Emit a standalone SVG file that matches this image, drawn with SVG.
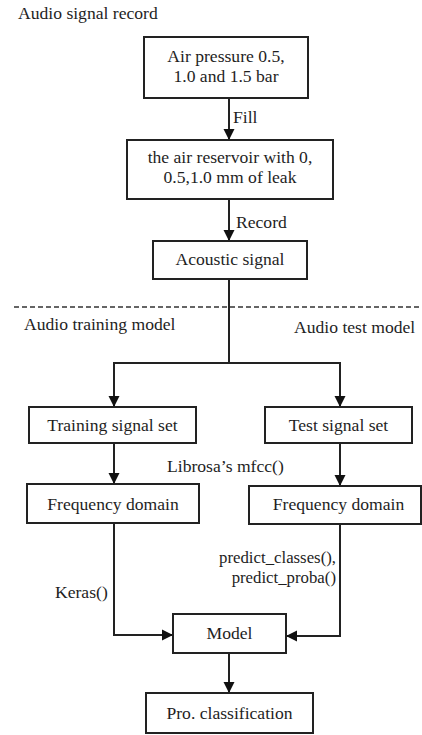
<svg xmlns="http://www.w3.org/2000/svg" width="422" height="735" viewBox="0 0 422 735">
<defs>
<style>
text{font-size:17.6px;fill:#1e1e1e}
.c{text-anchor:middle}
.r{text-anchor:end}
.sm{font-size:16.8px}
.box{fill:#fff;stroke:#222;stroke-width:2}
.ln{fill:none;stroke:#222;stroke-width:2}
.arr{fill:none;stroke:#222;stroke-width:2;marker-end:url(#ah)}
.dash{fill:none;stroke:#333;stroke-width:1.3;stroke-dasharray:5 3}
</style>
<marker id="ah" markerUnits="userSpaceOnUse" markerWidth="12" markerHeight="12" refX="11" refY="6" orient="auto">
<path d="M0,0.5 L11,6 L0,11.5 z" fill="#111"/>
</marker>
</defs>
<rect width="422" height="735" fill="#fff"/>
<g font-family="'Liberation Serif', 'DejaVu Serif', serif">
<text x="18" y="19">Audio signal record</text>
<text x="24" y="330">Audio training model</text>
<text x="294" y="333">Audio test model</text>
<g id="connectors">
<line class="arr" x1="229" y1="98" x2="229" y2="140"/>
<text x="233" y="123">Fill</text>
<line class="arr" x1="229" y1="199" x2="229" y2="241"/>
<text x="236" y="228">Record</text>
<polyline class="ln" points="229,279 229,363"/>
<line class="dash" x1="14" y1="307" x2="422" y2="307"/>
<polyline class="ln" points="113,363 340,363"/>
<line class="arr" x1="114" y1="362" x2="114" y2="407"/>
<line class="arr" x1="340" y1="362" x2="340" y2="407"/>
<line class="arr" x1="114" y1="443" x2="114" y2="484"/>
<line class="arr" x1="340" y1="443" x2="340" y2="486"/>
<text x="167" y="472">Librosa’s mfcc()</text>
<polyline class="arr" points="114,523 114,635 173,635"/>
<text x="55" y="598">Keras()</text>
<polyline class="arr" points="340,524 340,636 286,636"/>
<text class="r sm" x="336" y="563">predict_classes(),</text>
<text class="r sm" x="336" y="583">predict_proba()</text>
<line class="arr" x1="229" y1="653" x2="229" y2="693"/>
</g>
<g id="n1"><rect class="box" x="144" y="37" width="164" height="61"/><text class="c" x="226" y="62">Air pressure 0.5,</text><text class="c" x="226" y="82">1.0 and 1.5 bar</text></g>
<g id="n2"><rect class="box" x="127" y="140" width="206" height="59"/><text class="c" x="230" y="163">the air reservoir with 0,</text><text class="c" x="230" y="183">0.5,1.0 mm of leak</text></g>
<g id="n3"><rect class="box" x="153" y="241" width="154" height="38"/><text class="c" x="230" y="265">Acoustic signal</text></g>
<g id="n4"><rect class="box" x="29" y="407" width="167" height="36"/><text class="c" x="112.5" y="431">Training signal set</text></g>
<g id="n5"><rect class="box" x="265" y="407" width="147" height="36"/><text class="c" x="338.5" y="431">Test signal set</text></g>
<g id="n6"><rect class="box" x="27" y="484" width="172" height="39"/><text class="c" x="113" y="510">Frequency domain</text></g>
<g id="n7"><rect class="box" x="249" y="486" width="172" height="38"/><text class="c" x="338.5" y="510">Frequency domain</text></g>
<g id="n8"><rect class="box" x="173" y="614" width="113" height="39"/><text class="c" x="229.5" y="639">Model</text></g>
<g id="n9"><rect class="box" x="146" y="693" width="167" height="40"/><text class="c" x="229.5" y="719">Pro. classification</text></g>
</g>
</svg>
